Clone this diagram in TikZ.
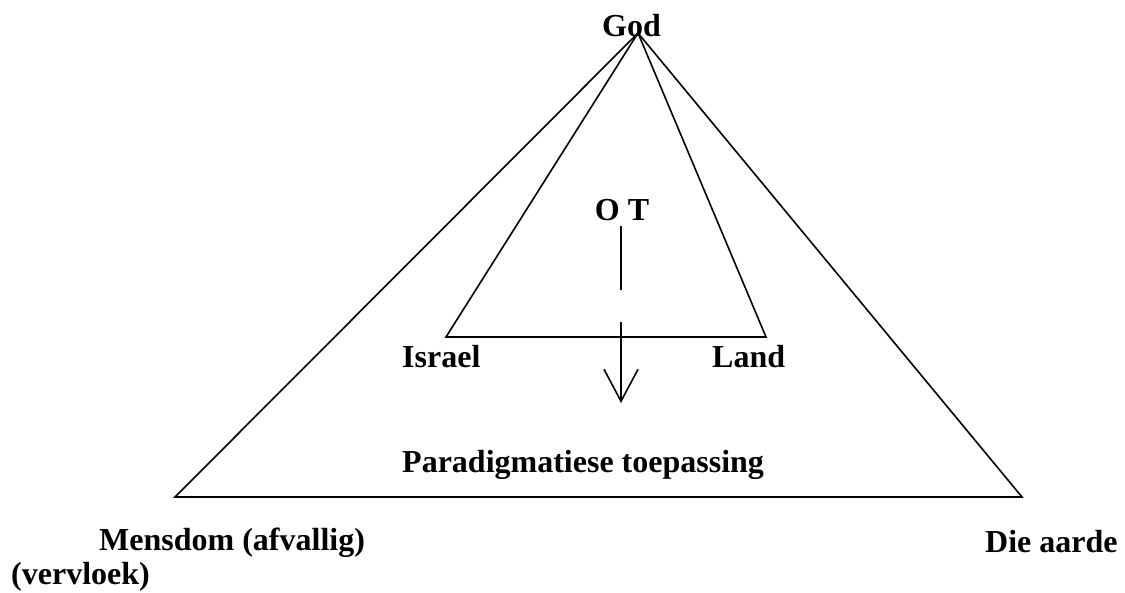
\documentclass[tikz,border=0pt]{standalone}
\usepackage{fontspec}
\setmainfont{Liberation Serif}
\usetikzlibrary{arrows.meta}
\tikzset{
  lbl/.style={font=\fontsize{32}{37}\selectfont\bfseries, inner sep=0pt, anchor=base},
  lblw/.style={lbl, anchor=base west},
  edge/.style={line width=1.6pt, line join=miter},
}
\begin{document}
\begin{tikzpicture}[x=1pt, y=-1pt]
\useasboundingbox (0,0) rectangle (1125,592);
% corners
\coordinate (apex) at (638,33);
\coordinate (bl) at (175,497);
\coordinate (br) at (1022,497);
\coordinate (il) at (446,337);
\coordinate (ir) at (766,337);
% labels
\node[lbl] (god) at (631.5,36) {God};
\node[lbl] (ot) at (622,220) {O T};
\node[lblw] (israel) at (402,367) {Israel};
\node[lblw] (land) at (712,367) {Land};
\node[lblw] (para) at (402,472) {Paradigmatiese toepassing};
\node[lblw] (mens) at (99,550) {Mensdom (afvallig)};
\node[lblw] (verv) at (11,584) {(vervloek)};
\node[lblw] (aarde) at (985,552) {Die aarde};
% triangles
\draw[edge] (apex) -- (bl) -- (br) -- cycle;
\draw[edge] (apex) -- (il) -- (ir) -- cycle;
% OT arrow
\coordinate (a1) at (621,226);
\coordinate (a2) at (621,290);
\coordinate (a3) at (621,322);
\coordinate (a4) at (621,403);
\draw[edge] (a1) -- (a2);
\draw[edge, -{Straight Barb[length=32pt, width=34pt, line width=1.6pt]}] (a3) -- (a4);
\end{tikzpicture}
\end{document}
